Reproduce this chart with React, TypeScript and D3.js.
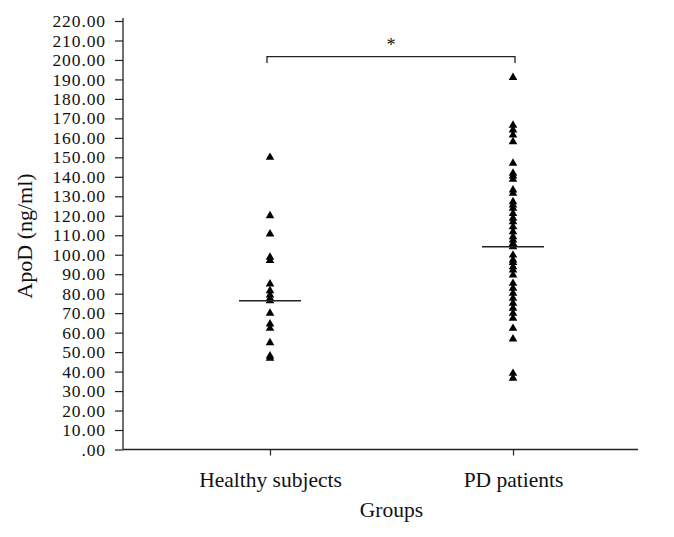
import React, { useEffect, useRef } from "react";
import * as d3 from "d3";

const groups = ["Healthy subjects", "PD patients"];

const healthyValues = [150, 120, 110.6, 98.7, 97, 85, 81.5, 79.3, 77.6, 76.4, 70, 64.4, 62.2, 54.8, 48, 46.8];

const pdValues = [
  191, 166.5, 164, 161.5, 158, 147, 141.8, 140.4, 138.7, 133.2, 131.5, 127.2, 125.5, 123.8,
  121.2, 118.7, 116.9, 114.4, 111.8, 109.2, 107.5, 105.8, 104.1, 99.8, 97.3, 96, 93.8, 92.1,
  89.6, 85.3, 82.8, 80.2, 77.6, 75.1, 72.5, 69.9, 67.4, 62.2, 56.7, 39.1, 36.6,
];

const groupMeans = [76.4, 104.1];

const yTicks = d3.range(0, 221, 10);

const App = () => {
  const ref = useRef<SVGSVGElement>(null);

  useEffect(() => {
    const width = 674, height = 537;
    const svg = d3.select(ref.current).attr("width", width).attr("height", height);
    svg.selectAll("*").remove();

    const font = "'Liberation Serif', 'Times New Roman', serif";
    const left = 123, right = 638;

    const y = d3.scaleLinear().domain([0, 220]).range([449.5, 21]);
    const x = d3.scalePoint<string>().domain(groups).range([270, 513]);

    svg.append("rect").attr("width", width).attr("height", height).attr("fill", "#fff");

    // y axis
    const fmt = (d: number) => d3.format(".2f")(d).replace(/^0\./, ".");
    const yAxis = svg.append("g")
      .attr("transform", `translate(${left},0)`)
      .call(d3.axisLeft(y).tickValues(yTicks).tickFormat(fmt as any).tickSize(8).tickPadding(9).tickSizeOuter(0));
    yAxis.select(".domain").attr("d", `M0,${y(0)}V18`).attr("stroke", "#222").attr("stroke-width", 1.3);
    yAxis.selectAll(".tick line").attr("stroke", "#222").attr("stroke-width", 1.2);
    yAxis.selectAll(".tick text").attr("font-family", font).attr("font-size", 17.5)
      .attr("letter-spacing", 0.9).attr("fill", "#111");

    // x axis
    const xAxis = svg.append("g")
      .attr("transform", `translate(0,${y(0)})`)
      .call(d3.axisBottom(x).tickSize(6).tickPadding(10).tickSizeOuter(0));
    xAxis.select(".domain").attr("d", `M${left},0H${right}`).attr("stroke", "#222").attr("stroke-width", 1.3);
    xAxis.selectAll(".tick line").attr("stroke", "#222").attr("stroke-width", 1.2);
    xAxis.selectAll(".tick text").attr("font-family", font).attr("font-size", 21.5).attr("fill", "#111").attr("dy", "1.0em");

    // axis titles
    svg.append("text")
      .attr("transform", `translate(32,236) rotate(-90)`)
      .attr("text-anchor", "middle")
      .attr("font-family", font).attr("font-size", 22).attr("fill", "#111")
      .text("ApoD (ng/ml)");

    svg.append("text")
      .attr("x", (x(groups[0])! + x(groups[1])!) / 2).attr("y", 517)
      .attr("text-anchor", "middle")
      .attr("font-family", font).attr("font-size", 21.5).attr("fill", "#111")
      .text("Groups");

    // points
    const tri = d3.symbol().type(d3.symbolTriangle).size(32);
    const series = [healthyValues, pdValues];
    series.forEach((vals, i) => {
      svg.append("g").selectAll("path")
        .data(vals)
        .enter()
        .append("path")
        .attr("d", tri)
        .attr("transform", d => `translate(${x(groups[i])},${y(d)})`)
        .attr("fill", "#000");
    });

    // mean lines
    svg.append("g").selectAll("line")
      .data(groupMeans)
      .enter()
      .append("line")
      .attr("x1", (d, i) => x(groups[i])! - 31)
      .attr("x2", (d, i) => x(groups[i])! + 31)
      .attr("y1", d => y(d))
      .attr("y2", d => y(d))
      .attr("stroke", "#222")
      .attr("stroke-width", 1.6);

    // significance bracket
    const bx1 = x(groups[0])! - 3, bx2 = x(groups[1])! + 2;
    svg.append("path")
      .attr("d", `M${bx1},63V56.7H${bx2}V63`)
      .attr("fill", "none").attr("stroke", "#222").attr("stroke-width", 1.3);
    svg.append("text")
      .attr("x", (bx1 + bx2) / 2).attr("y", 51)
      .attr("text-anchor", "middle")
      .attr("font-family", font).attr("font-size", 18).attr("fill", "#111")
      .text("*");
  }, []);

  return <svg ref={ref} style={{ position: "absolute", left: 0, top: 0, display: "block" }}></svg>;
};

export default App;
